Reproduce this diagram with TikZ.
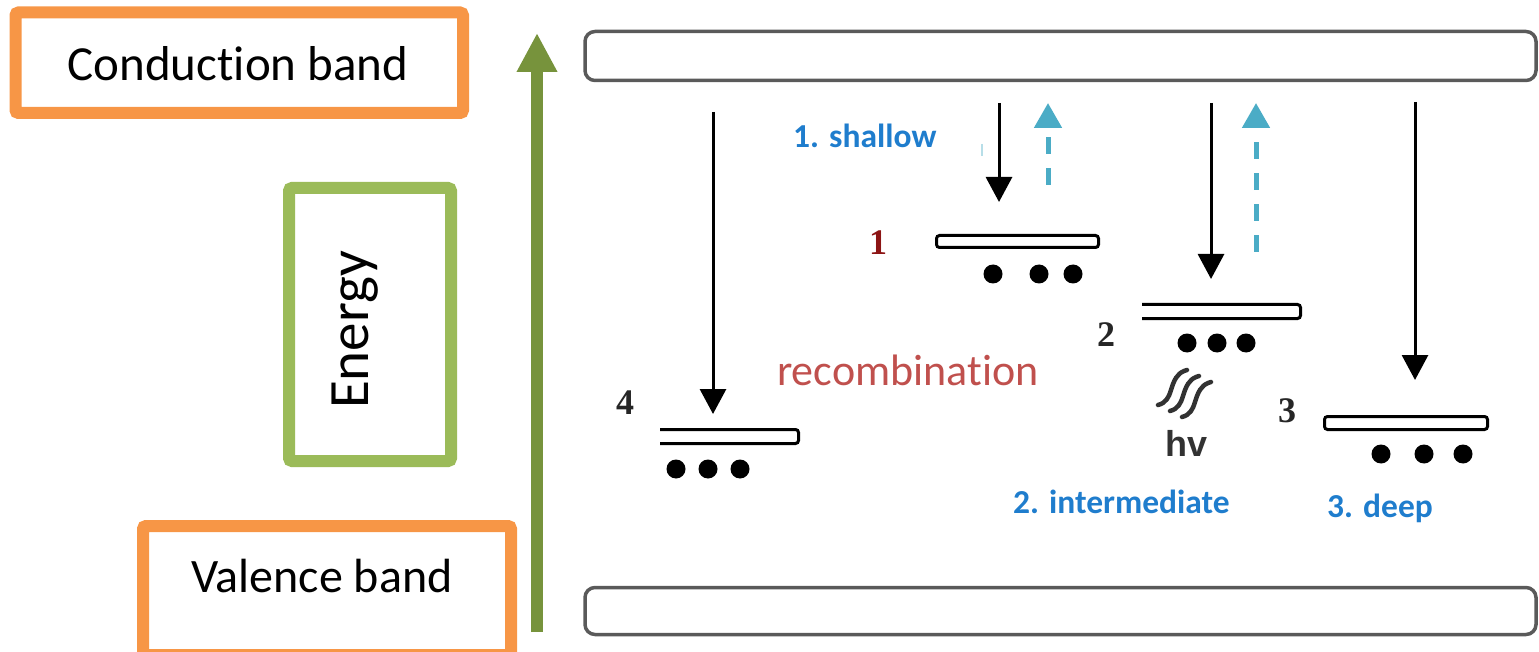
\documentclass[tikz,border=0pt]{standalone}
\usepackage{fontspec}
\setmainfont{Carlito}[Ligatures=NoCommon]
\newfontfamily\numfont{Liberation Serif}
\newfontfamily\hvfont{Liberation Sans}
\usetikzlibrary{arrows.meta}
\definecolor{orangeb}{RGB}{247,150,70}
\definecolor{greenb}{RGB}{155,187,89}
\definecolor{greena}{RGB}{119,147,60}
\definecolor{bandgray}{RGB}{90,90,90}
\definecolor{bluetxt}{RGB}{31,125,205}
\definecolor{redtxt}{RGB}{192,80,77}
\definecolor{cyanarr}{RGB}{75,172,198}
\definecolor{numred}{RGB}{140,20,20}
\definecolor{hvgray}{RGB}{50,50,50}
\tikzset{
  labelbox/.style={line width=12pt, rounded corners=3pt},
  bandbox/.style={draw=bandgray, line width=3.5pt, rounded corners=10pt},
  levelbar/.style={draw=black, line width=3pt, rounded corners=3pt},
  dotmark/.style={circle, fill=black, inner sep=0pt, minimum size=19pt},
  downarrow/.style={draw=black, line width=3pt, -{Triangle[width=26pt,length=25pt]}},
  uparrow/.style={draw=cyanarr, line width=5pt, dash pattern=on 17pt off 14pt, -{Triangle[width=27pt,length=25pt]}},
  energyarrow/.style={draw=greena, line width=12pt, -{Triangle[width=38pt,length=39pt]}},
  bluelabel/.style={text=bluetxt, font=\fontsize{33.5}{36}\selectfont\bfseries, inner sep=0pt, anchor=base west},
  numlabel/.style={font=\numfont\fontsize{36}{40}\selectfont\bfseries, inner sep=0pt},
  wave/.style={draw=hvgray, line width=4.5pt, line cap=round},
}
\begin{document}
\begin{tikzpicture}[x=1pt, y=-1pt]
\useasboundingbox (0,0) rectangle (1539,652);
% label boxes
\draw[labelbox, draw=orangeb] (15.5,12.5) rectangle (463,113);
\node[font=\fontsize{49}{52}\selectfont, anchor=base, inner sep=0pt] (cbtext) at (238,81) {Conduction band};
\draw[labelbox, draw=greenb] (289,188) rectangle (451,461);
\node[font=\fontsize{57}{60}\selectfont, rotate=90, anchor=base, inner sep=0pt] (entext) at (368,330) {Energy};
\draw[labelbox, draw=orangeb] (143,526) rectangle (511,655);
\node[font=\fontsize{48}{52}\selectfont, anchor=base, inner sep=0pt] (vbtext) at (322,592) {Valence band};
% energy axis
\coordinate (ebot) at (537,632);
\coordinate (etop) at (537,33);
\draw[energyarrow] (ebot) -- (etop);
% bands
\draw[bandbox] (585,31.5) rectangle (1536,80.5);
\draw[bandbox] (585,587.5) rectangle (1536,634.5);
% levels
\draw[levelbar] (936.5,235.5) rectangle (1098.5,247.5);
\draw[levelbar] (1142,304.5) -- (1300.5,304.5) -- (1300.5,318.5) -- (1142,318.5);
\draw[levelbar] (1324.5,416.5) rectangle (1487.5,429.5);
\draw[levelbar] (660,429.5) -- (798.5,429.5) -- (798.5,443.5) -- (660,443.5);
% dots
\node[dotmark] (d11) at (993,274) {};
\node[dotmark] (d12) at (1039,274) {};
\node[dotmark] (d13) at (1073,274) {};
\node[dotmark] (d21) at (1187,343) {};
\node[dotmark] (d22) at (1217,343) {};
\node[dotmark] (d23) at (1246,343) {};
\node[dotmark] (d31) at (1381,454) {};
\node[dotmark] (d32) at (1424,454) {};
\node[dotmark] (d33) at (1463,454) {};
\node[dotmark] (d41) at (676,469) {};
\node[dotmark] (d42) at (708,469) {};
\node[dotmark] (d43) at (740,469) {};
% arrows
\coordinate (a4s) at (713,112);  \coordinate (a4e) at (713,414);
\coordinate (a1s) at (999,103);  \coordinate (a1e) at (999,202);
\coordinate (a2s) at (1211,103); \coordinate (a2e) at (1211,279);
\coordinate (a3s) at (1415,102); \coordinate (a3e) at (1415,380);
\draw[downarrow] (a4s) -- (a4e);
\draw[downarrow] (a1s) -- (a1e);
\draw[downarrow] (a2s) -- (a2e);
\draw[downarrow] (a3s) -- (a3e);
\coordinate (u1s) at (1048,185); \coordinate (u1e) at (1048,103);
\coordinate (u2s) at (1256,252); \coordinate (u2e) at (1256,103);
\draw[uparrow] (u1s) -- (u1e);
\draw[uparrow] (u2s) -- (u2e);
\coordinate (m1) at (982,144); \coordinate (m2) at (982,156);
\draw[draw=cyanarr!40, line width=1.5pt] (m1) -- (m2);
% numbers
\node[numlabel, text=numred] (n1) at (878,243) {1};
\node[numlabel, text=black!85] (n2) at (1106,335) {2};
\node[numlabel, text=black!85] (n3) at (1287,411) {3};
\node[numlabel, text=black!85] (n4) at (625,403) {4};
% texts
\node[bluelabel] (t1) at (793,148) {1. shallow};
\node[bluelabel] (t2) at (1013,513) {2. intermediate};
\node[bluelabel] (t3) at (1327,517) {3. deep};
\node[text=redtxt, font=\fontsize{44}{48}\selectfont, anchor=base west, inner sep=0pt] (rec) at (777,385) {recombination};
% hv waves
\foreach \dx/\dy in {0/0, 12/6, 24/12}{
  \draw[wave, shift={(\dx,\dy)}] (1158,405) .. controls (1166,403) and (1169,397) .. (1171,390) .. controls (1174,380) and (1177,374) .. (1184,371) -- (1187,370);
}
\node[font=\hvfont\fontsize{36}{38}\selectfont\bfseries, text=hvgray, inner sep=0pt, anchor=base] (hv) at (1186,456) {hv};
\end{tikzpicture}
\end{document}
